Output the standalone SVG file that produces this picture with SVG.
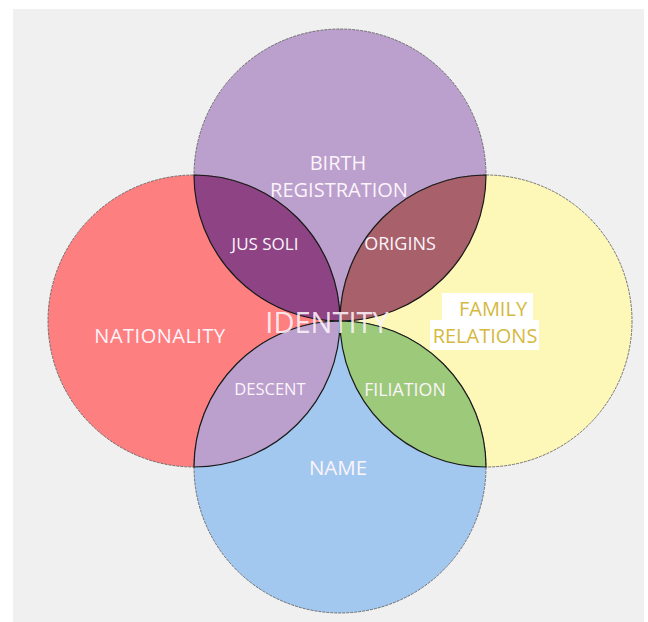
<svg xmlns="http://www.w3.org/2000/svg" width="648" height="622" viewBox="0 0 648 622">
<style>
.circ{stroke:#555;stroke-width:0.8;stroke-dasharray:3 1}
.lens{stroke:#1a1a1a;stroke-width:1.2}
.lbl{font-family:"Open Sans","Noto Sans","Liberation Sans",sans-serif;fill:#fbf4fb;text-anchor:middle}
.gold{font-family:"Open Sans","Noto Sans","Liberation Sans",sans-serif;fill:#d6b93e;text-anchor:middle;font-size:20px}
</style>
<rect x="0" y="0" width="648" height="622" fill="#ffffff"/>
<rect x="13" y="9" width="631" height="613" fill="#f0f0f0"/>
<g id="node-birth-registration"><circle class="circ" cx="340" cy="175" r="146" fill="#bb9fcc"/></g>
<g id="node-nationality"><circle class="circ" cx="194" cy="321" r="146" fill="#fe7f7f"/></g>
<g id="node-family-relations"><circle class="circ" cx="486" cy="321" r="146" fill="#fef8b8"/></g>
<g id="node-name"><circle class="circ" cx="340" cy="467" r="146" fill="#a3c8f0"/></g>
<g id="node-jus-soli"><path class="lens" d="M194,175 A146,146 0 0 0 340,321 A146,146 0 0 0 194,175 Z" fill="#8d4384"/></g>
<g id="node-origins"><path class="lens" d="M340,321 A146,146 0 0 0 486,175 A146,146 0 0 0 340,321 Z" fill="#a8606a"/></g>
<g id="node-descent"><path class="lens" d="M340,321 A146,146 0 0 1 194,467 A146,146 0 0 1 340,321 Z" fill="#bb9fcc"/></g>
<g id="node-filiation"><path class="lens" d="M340,321 A146,146 0 0 1 486,467 A146,146 0 0 1 340,321 Z" fill="#9dca7a"/></g>
<g id="connectors"></g>
<g id="labels">
<text class="lbl" x="338" y="170" font-size="20">BIRTH</text>
<text class="lbl" x="339" y="197" font-size="20">REGISTRATION</text>
<text class="lbl" x="265" y="250" font-size="17">JUS SOLI</text>
<text class="lbl" x="400" y="250" font-size="18">ORIGINS</text>
<text class="lbl" x="160" y="343" font-size="20" letter-spacing="0.5">NATIONALITY</text>
<text class="lbl" x="327" y="333" font-size="29" fill-opacity="0.9">IDENTITY</text>
<text class="lbl" x="270" y="395" font-size="16.5">DESCENT</text>
<text class="lbl" x="405" y="396" font-size="17.8">FILIATION</text>
<text class="lbl" x="338" y="475" font-size="20.5">NAME</text>
<rect x="442" y="293" width="91" height="27" fill="#ffffff"/>
<rect x="430" y="320" width="109" height="30" fill="#ffffff"/>
<text class="gold" x="493" y="316" font-size="21">FAMILY</text>
<text class="gold" x="485" y="343">RELATIONS</text>
</g>
</svg>
